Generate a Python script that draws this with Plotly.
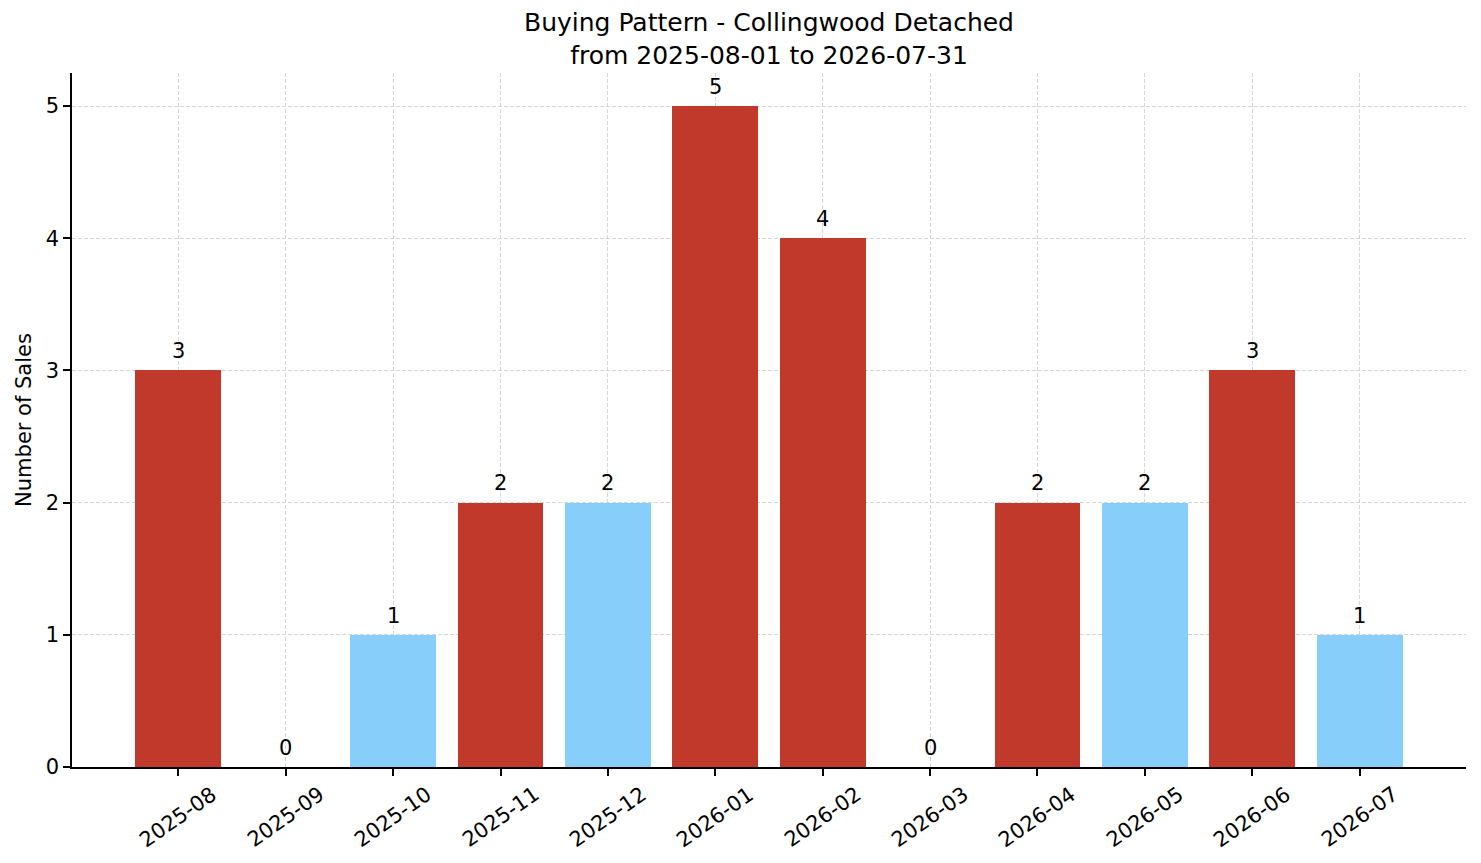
import plotly.graph_objects as go

months = ["2025-08", "2025-09", "2025-10", "2025-11", "2025-12", "2026-01",
          "2026-02", "2026-03", "2026-04", "2026-05", "2026-06", "2026-07"]
sales = [3, 0, 1, 2, 2, 5, 4, 0, 2, 2, 3, 1]
RED = "#c0392b"
BLUE = "#87cefa"
bar_colors = [RED, BLUE, BLUE, RED, BLUE, RED, RED, BLUE, RED, BLUE, RED, BLUE]
y_ticks = [0, 1, 2, 3, 4, 5]

FONT = "DejaVu Sans"
label_offset = 0.1
W, H = 1465, 847

idx = list(range(len(months)))

fig = go.Figure()
fig.add_trace(go.Bar(
    x=idx, y=sales, width=0.8,
    marker=dict(color=bar_colors, line=dict(width=0)),
    hoverinfo="skip", showlegend=False,
))

annotations = []
for i, v in zip(idx, sales):
    annotations.append(dict(
        x=i, y=v + label_offset, xref="x", yref="y",
        text=str(v), showarrow=False, xanchor="center", yanchor="bottom",
        yshift=-8, font=dict(family=FONT, size=21, color="black"),
    ))
for i, m in zip(idx, months):
    annotations.append(dict(
        x=i, y=0, xref="x", yref="paper",
        text=m, showarrow=False, xanchor="center", yanchor="middle",
        textangle=-35, yshift=-50,
        font=dict(family=FONT, size=21, color="black"),
    ))

fig.update_layout(
    width=W, height=H,
    margin=dict(l=64, r=7, t=65, b=88),
    plot_bgcolor="white", paper_bgcolor="white",
    font=dict(family=FONT, size=21, color="black"),
    title=dict(
        text="Buying Pattern - Collingwood Detached<br>from 2025-08-01 to 2026-07-31",
        x=0.5, xref="paper", xanchor="center",
        y=1 - 23 / H, yref="container", yanchor="top",
        font=dict(family=FONT, size=25, color="black"),
    ),
    annotations=annotations,
    bargap=0,
)
fig.update_xaxes(
    range=[-0.99, 11.99], tickmode="array", tickvals=idx, showticklabels=False,
    ticks="outside", ticklen=7, tickwidth=1.6, tickcolor="black",
    showline=True, linecolor="black", linewidth=1.6,
    showgrid=True, gridcolor="#d6d6d6", gridwidth=0.8, griddash="4px,2px",
    zeroline=False, layer="above traces",
)
fig.update_yaxes(
    range=[0, 5.25], tickmode="array", tickvals=y_ticks,
    ticktext=[str(t) for t in y_ticks],
    ticks="outside", ticklen=7, tickwidth=1.6, tickcolor="black",
    tickfont=dict(family=FONT, size=21, color="black"),
    showline=True, linecolor="black", linewidth=1.6,
    showgrid=True, gridcolor="#d6d6d6", gridwidth=0.8, griddash="4px,2px",
    zeroline=False, layer="above traces",
    title=dict(text="Number of Sales", standoff=8,
               font=dict(family=FONT, size=21, color="black")),
)

fig.write_html("out.html")
